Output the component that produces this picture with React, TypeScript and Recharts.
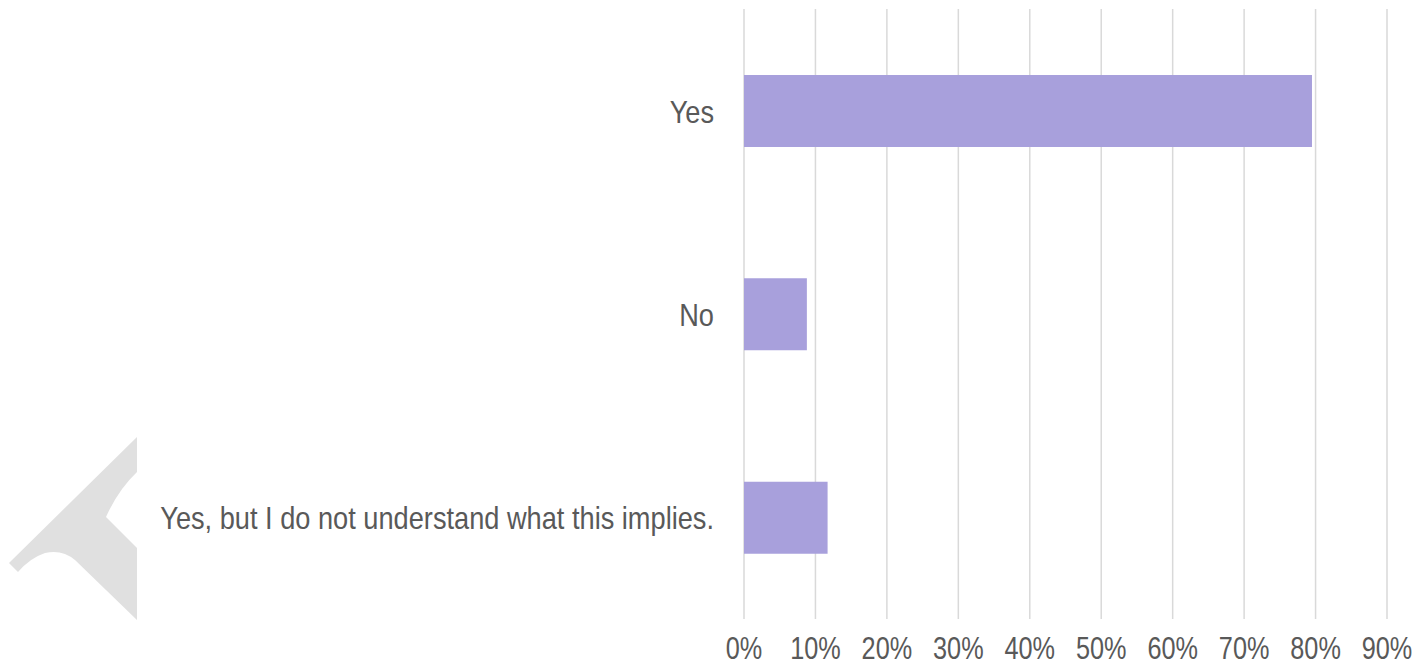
import React from 'react';
import { BarChart, Bar, XAxis, YAxis, CartesianGrid } from 'recharts';

const categories = ['Yes', 'No', 'Yes, but I do not understand what this implies.'];
const shares = [0.795, 0.088, 0.117];
const xTicks = [0, 0.1, 0.2, 0.3, 0.4, 0.5, 0.6, 0.7, 0.8, 0.9];

const data = categories.map((name, i) => ({ name, value: shares[i] }));

const font = '"Liberation Sans", Arial, sans-serif';
const textColor = '#595959';

// the source uses a narrow face; squeeze Liberation Sans horizontally instead
function CategoryTick(props: any) {
    const { x, y, payload } = props;
    return (
        <g transform={`translate(${x},${y})`}>
            <text
                transform="scale(0.85,1)"
                textAnchor="end"
                dy={12}
                fill={textColor}
                fontSize={32}
                fontFamily={font}
            >
                {payload.value}
            </text>
        </g>
    );
}

function PercentTick(props: any) {
    const { x, y, payload } = props;
    return (
        <g transform={`translate(${x},${y})`}>
            <text
                transform="scale(0.79,1)"
                textAnchor="middle"
                dy={40}
                fill={textColor}
                fontSize={32}
                fontFamily={font}
            >
                {`${Math.round(payload.value * 100)}%`}
            </text>
        </g>
    );
}

export default function App() {
    return (
        <div style={{ position: 'absolute', left: 0, top: 0, width: 1419, height: 668, background: '#fff' }}>
            {/* faint grey mark on the left edge */}
            <svg width={160} height={668} style={{ position: 'absolute', left: 0, top: 0 }}>
                <path
                    d="M137,437 L137,472 Q118,490 106,517 L137,548 L137,620 L75,560 Q62,549 45,553 Q30,558 18,572 L9,563 Z"
                    fill="#e0e0e0"
                />
            </svg>
            <BarChart
                width={1419}
                height={668}
                data={data}
                layout="vertical"
                margin={{ top: 9, right: 32, bottom: 0, left: 0 }}
                barCategoryGap={0}
                style={{ position: 'absolute', left: 0, top: 0 }}
            >
                <CartesianGrid horizontal={false} stroke="#d9d9d9" strokeWidth={1.5} />
                <XAxis
                    type="number"
                    domain={[0, 0.9]}
                    ticks={xTicks}
                    axisLine={false}
                    tickLine={false}
                    tickSize={0}
                    tickMargin={0}
                    height={49}
                    tick={<PercentTick />}
                    interval={0}
                />
                <YAxis
                    type="category"
                    dataKey="name"
                    width={744}
                    axisLine={false}
                    tickLine={false}
                    tickSize={0}
                    tickMargin={30}
                    tick={<CategoryTick />}
                />
                <Bar dataKey="value" fill="#a8a0dc" barSize={72} isAnimationActive={false} />
            </BarChart>
        </div>
    );
}
